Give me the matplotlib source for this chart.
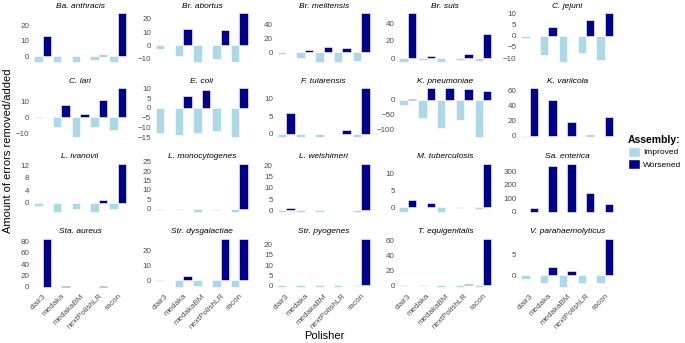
import matplotlib.pyplot as plt
import numpy as np
from matplotlib.patches import Patch

plt.rcParams['font.family'] = ['Liberation Sans', 'DejaVu Sans']

polishers = ['clair3', 'medaka', 'medakaBM', 'nextPolishLR', 'racon']

species = ['Ba. anthracis', 'Br. abortus', 'Br. melitensis', 'Br. suis', 'C. jejuni',
           'C. lari', 'E. coli', 'F. tularensis', 'K. pneumoniae', 'K. variicola',
           'L. ivanovii', 'L. monocytogenes', 'L. welshimeri', 'M. tuberculosis', 'Sa. enterica',
           'Sta. aureus', 'Str. dysgalactiae', 'Str. pyogenes', 'T. equigenitalis', 'V. parahaemolyticus']

# errors removed (negative) per polisher
improved = [
    [-4, -4, -4, -2.6, -4],
    [-2.5, -8, -12.5, -10, -12.5],
    [-2, -8.6, -14, -14, -13],
    [-4, -2, -4.5, -2.6, -3],
    [-1, -8.8, -11.8, -7.7, -10.7],
    [-0.5, -6, -12.5, -6, -8],
    [-13, -14, -13, -12, -15],
    [-1, -1, -1, 0, -1],
    [-17, -60, -93, -67, -125],
    [-2, -1, -1, -1, -1],
    [-1, -3, -2, -3, -2],
    [-1, -1, -2, -1, -2],
    [-1, -1, -1, 0, -1],
    [-1.5, 0, -1.5, -0.3, -0.5],
    [-5, -4, -4, -4, -4],
    [-0.8, -0.8, -0.8, -0.8, -0.8],
    [-0.5, -5, -4, -5, -4.5],
    [-1, -1, -1, -1, -0.5],
    [-0.5, -0.5, -2, -2, -3],
    [-1, -2, -3, -2, -2],
]

# errors added (positive) per polisher
worsened = [
    [13, 0, 0, 1, 28],
    [0, 12.5, 0, 11.3, 24],
    [1, 3, 8, 6, 55],
    [51, 2.6, 0, 4.5, 27],
    [0, 4, 0, 7, 10],
    [0, 7.5, 2, 10.6, 18],
    [0, 6, 9, 0, 10],
    [6, 0, 0, 1, 13],
    [1, 37, 37, 35, 30],
    [62, 47, 18.5, 1, 24],
    [0, 0, 0, 1, 12.5],
    [0, 0, 0, 0, 24],
    [0.8, 0, 0, 0, 21],
    [2.3, 1.2, 0, 0, 13],
    [25, 340, 360, 140, 60],
    [85, 1, 0, 2, 0],
    [0, 3, 0, 28, 28],
    [0, 0, 0, 0, 23],
    [0, 0, 0, 1, 62],
    [0, 2, 1, 0, 9],
]

yticks = [
    [0, 10, 20], [-10, 0, 10, 20], [0, 20, 40], [0, 20, 40], [-10, -5, 0, 5, 10],
    [-10, 0, 10], [-15, -10, -5, 0, 5, 10], [0, 5, 10], [-100, -50, 0], [0, 20, 40, 60],
    [0, 4, 8, 12], [0, 5, 10, 15, 20, 25], [0, 5, 10, 15, 20], [0, 5, 10], [0, 100, 200, 300],
    [0, 20, 40, 60, 80], [0, 10, 20], [0, 5, 10, 15, 20], [0, 20, 40, 60], [0, 5],
]

c_imp = '#ADD8E6'
c_wor = '#00008B'

fig, axes = plt.subplots(4, 5, figsize=(6.85, 3.43), dpi=100)
fig.subplots_adjust(left=0.047, right=0.898, top=0.968, bottom=0.155, wspace=0.27, hspace=0.40)

x = np.arange(len(polishers))
w = 0.45
for i, ax in enumerate(axes.flat):
    ax.bar(x - w / 2, improved[i], width=w, color=c_imp, edgecolor='white', linewidth=0.4)
    ax.bar(x + w / 2, worsened[i], width=w, color=c_wor, edgecolor='white', linewidth=0.4)
    ax.set_title(species[i], fontsize=6, style='italic', pad=2)
    ax.set_xlim(-0.55, 4.55)
    ax.set_yticks(yticks[i])
    ax.tick_params(axis='y', labelsize=5.8, labelcolor='#4D4D4D', length=0, pad=2)
    ax.set_xticks(x)
    if i >= 15:
        ax.set_xticklabels(polishers, rotation=45, ha='right', rotation_mode='anchor',
                           fontsize=5.8, color='#4D4D4D')
    else:
        ax.set_xticklabels([])
    ax.tick_params(axis='x', length=0, pad=2)
    for s in ax.spines.values():
        s.set_visible(False)

fig.text(0.012, 0.56, 'Amount of errors removed/added', rotation=90, va='center', ha='center', fontsize=8)
fig.text(0.474, 0.005, 'Polisher', ha='center', va='bottom', fontsize=8)

handles = [Patch(facecolor=c_imp, edgecolor='white'), Patch(facecolor=c_wor, edgecolor='white')]
leg = fig.legend(handles, ['Improved', 'Worsened'], title='Assembly:', loc='center left',
                 bbox_to_anchor=(0.917, 0.557), frameon=False, fontsize=6,
                 handlelength=1.4, handleheight=1.55, handletextpad=0.4, labelspacing=0.2,
                 borderpad=0, borderaxespad=0)
leg.get_title().set_fontweight('bold')
leg.get_title().set_fontsize(7.5)
leg._legend_box.align = 'left'

fig.savefig('out.png', dpi=100)
